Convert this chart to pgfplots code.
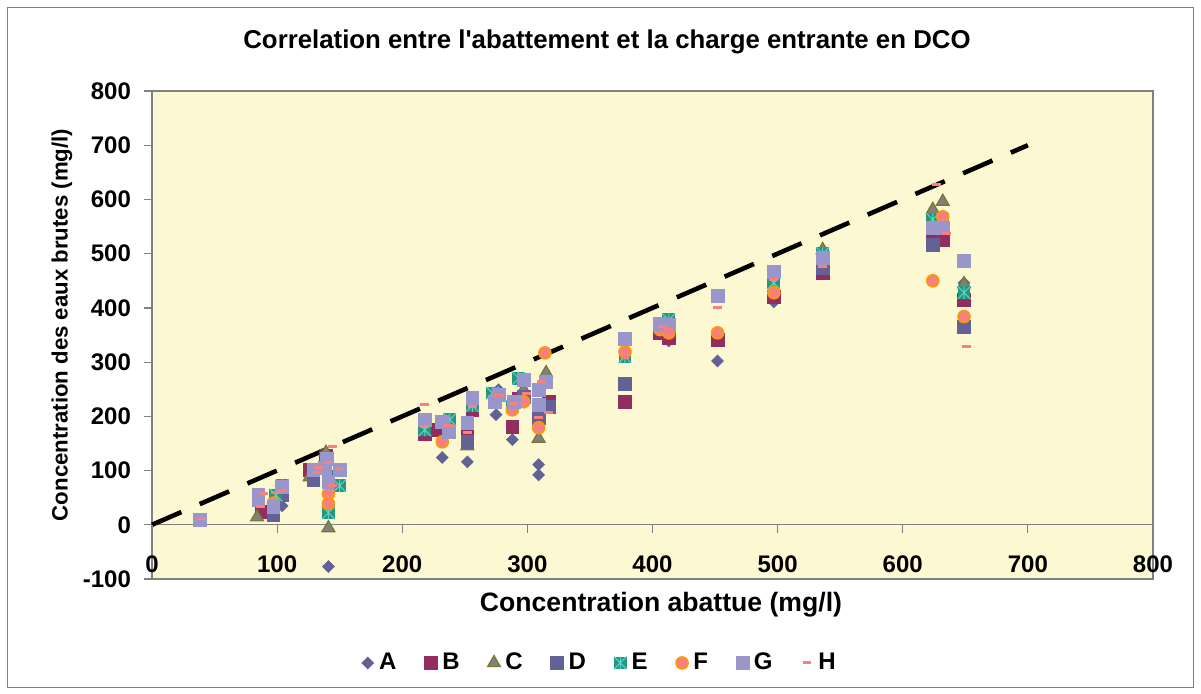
\documentclass[border=0pt]{standalone}
\usepackage{fontspec}
\setmainfont{Liberation Sans}
\usepackage{pgfplots}
\pgfplotsset{compat=1.18}
\usetikzlibrary{plotmarks}
\definecolor{bgy}{RGB}{251,248,210}
\definecolor{cA}{RGB}{98,98,150}
\definecolor{cB}{RGB}{145,45,95}
\definecolor{cCf}{RGB}{128,128,128}
\definecolor{cCd}{RGB}{120,120,40}
\definecolor{cD}{RGB}{98,98,150}
\definecolor{cE}{RGB}{40,150,120}
\definecolor{cEx}{RGB}{90,210,210}
\definecolor{cFf}{RGB}{245,128,128}
\definecolor{cFd}{RGB}{255,153,0}
\definecolor{cG}{RGB}{153,150,204}
\definecolor{cH}{RGB}{250,128,128}
\definecolor{axg}{RGB}{128,128,128}
\pgfdeclareplotmark{mydiamond}{%
  \pgfpathmoveto{\pgfqpoint{0pt}{\pgfplotmarksize}}%
  \pgfpathlineto{\pgfqpoint{\pgfplotmarksize}{0pt}}%
  \pgfpathlineto{\pgfqpoint{0pt}{-\pgfplotmarksize}}%
  \pgfpathlineto{\pgfqpoint{-\pgfplotmarksize}{0pt}}%
  \pgfpathclose\pgfusepathqfill}
\pgfdeclareplotmark{boxx}{%
  \pgfsetfillcolor{cE}%
  \pgfpathrectangle{\pgfqpoint{-\pgfplotmarksize}{-\pgfplotmarksize}}{\pgfqpoint{2\pgfplotmarksize}{2\pgfplotmarksize}}%
  \pgfusepathqfill
  \pgfsetstrokecolor{cEx}\pgfsetlinewidth{0.5pt}%
  \pgfpathmoveto{\pgfqpoint{-\pgfplotmarksize}{-\pgfplotmarksize}}\pgfpathlineto{\pgfqpoint{\pgfplotmarksize}{\pgfplotmarksize}}%
  \pgfpathmoveto{\pgfqpoint{-\pgfplotmarksize}{\pgfplotmarksize}}\pgfpathlineto{\pgfqpoint{\pgfplotmarksize}{-\pgfplotmarksize}}%
  \pgfpathmoveto{\pgfqpoint{0pt}{-\pgfplotmarksize}}\pgfpathlineto{\pgfqpoint{0pt}{\pgfplotmarksize}}%
  \pgfusepathqstroke}
\pgfdeclareplotmark{hdash}{%
  \pgfpathrectangle{\pgfqpoint{-2.2pt}{-0.75pt}}{\pgfqpoint{4.4pt}{1.5pt}}\pgfusepathqfill}
\pgfdeclareplotmark{tickdown}{%
  \pgfpathmoveto{\pgfpointorigin}\pgfpathlineto{\pgfqpoint{0pt}{-4pt}}\pgfusepathqstroke}
\newcommand\tfont{\bfseries\fontsize{12}{14.4}\selectfont}
\newcommand\lfont{\bfseries\fontsize{12}{14.4}\selectfont}
\begin{document}
\begin{tikzpicture}
\useasboundingbox (-76pt,-57pt) rectangle (524.5pt,289.5pt);
\draw[axg, line width=0.5pt] (-72pt,-54pt) rectangle (520.5pt,286pt);
\begin{axis}[
  at={(0,0)}, anchor=south west, scale only axis,
  width=500.5pt, height=244pt,
  xmin=0, xmax=800, ymin=-100, ymax=800,
  xtick={0,100,...,800}, ytick={-100,0,...,800},
  axis background/.style={fill=bgy},
  axis line style={axg, line width=0.6pt},
  tick align=outside, ytick pos=left, xtick pos=bottom,
  major tick length=4pt,
  ytick style={axg, line width=0.6pt},
  xtick style={draw=none},
  /pgf/number format/assume math mode=true,
  ticklabel style={font=\tfont},
  xticklabel style={anchor=center, yshift=11.5pt},
  yticklabel style={xshift=-3pt},
  clip=false,
  legend columns=8,
  legend style={at={(0.4476,-0.172)}, anchor=center, draw=none, fill=none,
    font=\lfont, inner xsep=0pt,
    /tikz/every even column/.append style={column sep=11.5pt},
    nodes={inner xsep=2pt}},
  legend image code/.code={\path (0pt,0pt) (7pt,0pt); \draw[#1] plot coordinates {(3.5pt,0pt)};},
]
\addplot[axg, line width=0.6pt, mark=tickdown, forget plot] coordinates {(0,0)(100,0)(200,0)(300,0)(400,0)(500,0)(600,0)(700,0)(800,0)};
\addplot[black, line width=2.3pt, dash pattern=on 16pt off 10pt, forget plot] coordinates {(0,0)(700,700)};
% A
\addplot[only marks, mark=mydiamond, mark size=3.2pt, color=cA] coordinates {
(104,35)(141,-77)(218,166)(232,124)(252,116)(277,249)(275,203)(288,157)(309,111)(309,92)(413,339)(452,302)(497,411)(649,446)};
\addlegendentry{A}
% B
\addplot[only marks, mark=square*, mark size=3.2pt, color=cB] coordinates {
(88,24)(126,101)(139,128)(218,168)(228,175)(256,212)(252,172)(288,181)(293,233)(317,227)(378,227)(406,354)(413,345)(452,341)(497,421)(536,465)(624,529)(632,526)(649,415)};
\addlegendentry{B}
% C
\addplot[only marks, mark=triangle*, mark size=3.7pt, mark options={draw=cCd, fill=cCf, line width=0.6pt}] coordinates {
(84,14)(126,88)(139,133)(141,-6)(252,145)(297,249)(309,159)(315,280)(536,507)(624,581)(632,596)(649,444)};
\addlegendentry{C}
% D
\addplot[only marks, mark=square*, mark size=3.2pt, color=cD] coordinates {
(97,18)(104,55)(129,83)(141,88)(252,153)(297,236)(309,197)(317,218)(378,260)(536,473)(624,516)(649,365)};
\addlegendentry{D}
% E
\addplot[only marks, mark=boxx, mark size=3.2pt, color=cE] coordinates {
(99,55)(104,72)(150,72)(141,22)(218,175)(238,194)(256,220)(272,243)(288,218)(293,270)(378,310)(413,378)(497,446)(536,500)(624,563)(632,563)(649,428)};
\addlegendentry{E}
% F
\addplot[only marks, mark=*, mark size=3pt, mark options={draw=cFd, fill=cFf, line width=0.8pt}] coordinates {
(97,40)(141,57)(141,39)(232,153)(288,212)(297,227)(309,179)(314,317)(378,319)(406,360)(413,354)(452,354)(497,428)(536,490)(624,450)(632,568)(649,384)};
\addlegendentry{F}
% G
\addplot[only marks, mark=square*, mark size=3.2pt, color=cG] coordinates {
(38,9)(85,55)(85,45)(97,33)(104,70)(129,101)(140,122)(138,105)(141,79)(150,101)(218,194)(232,190)(237,172)(256,234)(252,188)(277,240)(274,227)(289,227)(297,267)(309,249)(309,221)(315,264)(378,343)(406,371)(413,369)(452,422)(497,467)(536,492)(624,548)(632,548)(649,487)};
\addlegendentry{G}
% H
\addplot[only marks, mark=hdash, color=cH] coordinates {
(39,11)(89,57)(87,33)(99,60)(104,64)(132,96)(144,144)(140,114)(133,105)(150,103)(144,72)(218,221)(218,181)(237,183)(256,218)(252,170)(277,238)(289,223)(299,243)(311,264)(309,197)(317,207)(378,308)(408,365)(413,361)(452,400)(497,452)(536,476)(627,627)(635,537)(651,328)};
\addlegendentry{H}
\end{axis}
\node[font=\bfseries\fontsize{12.9}{15}\selectfont] at (227.5pt,268.5pt) {Correlation entre l\textquotesingle abattement et la charge entrante en DCO};
\node[font=\bfseries\fontsize{13.3}{16}\selectfont] at (254.5pt,-13pt) {Concentration abattue (mg/l)};
\node[font=\bfseries\fontsize{11.1}{13.5}\selectfont, rotate=90] at (-45pt,127pt) {Concentration des eaux brutes (mg/l)};
\end{tikzpicture}
\end{document}
